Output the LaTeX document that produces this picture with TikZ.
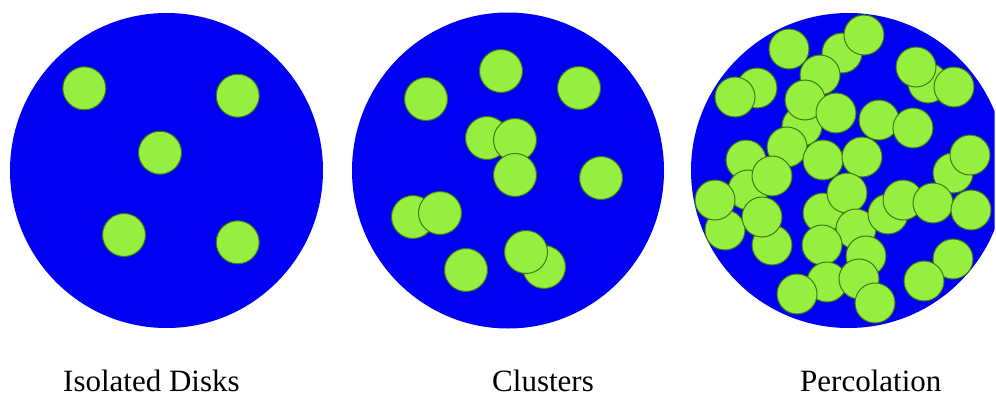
\documentclass[tikz,border=0pt]{standalone}
\usepackage{fontspec}
\setmainfont{Liberation Serif}
\definecolor{bigblue}{RGB}{0,0,245}
\definecolor{diskgreen}{RGB}{150,238,62}
\definecolor{diskedge}{RGB}{60,120,20}
\tikzset{
  bigdisk/.style={fill=bigblue,draw=none},
  smalldisk/.style={fill=diskgreen,draw=diskedge,line width=1pt},
  label/.style={font=\fontsize{31}{36}\selectfont,inner sep=0pt,anchor=base west}
}
\begin{document}
\begin{tikzpicture}[x=1pt,y=-1pt]
\useasboundingbox (0,0) rectangle (996,399);
% circle 1
\fill[bigblue] (166.5,170.5) ellipse [x radius=156.5,y radius=157.5];
\foreach \p in {(84.3,88.3),(237.7,95.7),(160,152.7),(124,235),(237.7,242.3)}
  \draw[smalldisk] \p circle[radius=21.5];
% circle 2
\fill[bigblue] (508,170.5) ellipse [x radius=156,y radius=158];
\foreach \p in {(426,99),(501,71),(579,88),(487,138),(515,140),(515,175),(601,178),(413,217),(440,213),(466,270),(544,267),(526,252)}
  \draw[smalldisk] \p circle[radius=21.5];
% circle 3
\begin{scope}
\clip (0,0) rectangle (994.5,399);
\fill[bigblue] (848.5,170.5) circle[radius=157.5];
\end{scope}
\foreach \p in {(928,83),(916,67),(954,87),(842,53),(864,35),(789,49),(757,88),(735,97),
  (820,75),(802,126),(805,100),(836,113),(787,147),(879,120),(913,128),(746,160),
  (823,160),(862,157),(953,173),(970,155),(748,190),(772,176),(725,230),(715,200),
  (772,245),(762,217),(823,213),(847,193),(856,229),(822,245),(888,214),(903,200),
  (933,203),(971,210),(866,256),(827,282),(859,279),(797,294),(875,303),(953,259),(924,281)}
  \draw[smalldisk] \p circle[radius=20];
% labels
\node[label] (l1) at (63,391) {Isolated Disks};
\node[label] (l2) at (492,391) {Clusters};
\node[label] (l3) at (800,391) {Percolation};
\end{tikzpicture}
\end{document}
